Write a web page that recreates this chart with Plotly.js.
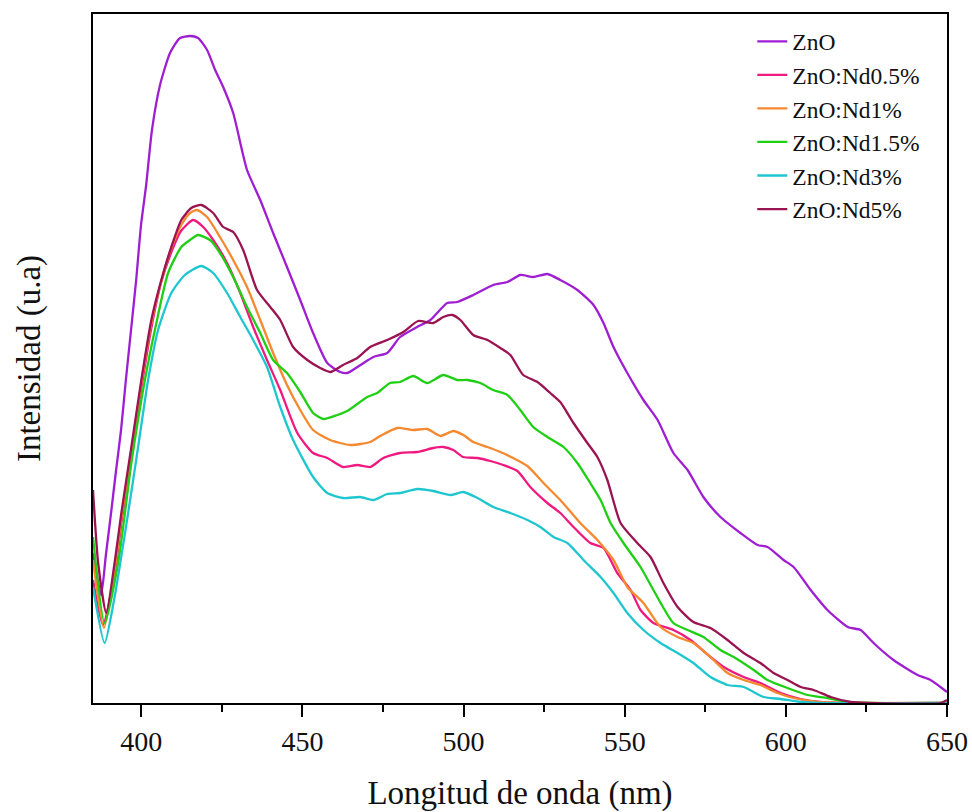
<!DOCTYPE html>
<html>
<head>
<meta charset="utf-8">
<script src="https://cdn.plot.ly/plotly-3.0.1.min.js"></script>
<style>html,body{margin:0;padding:0;background:#fff;}#chart{width:972px;height:812px;}</style>
</head>
<body>
<div id="chart"></div>
<script>
// Wavelength (nm) and intensity (arbitrary units)
const znoX = [385,387.5,389.0,390.6,392.1,393.7,395.2,396.8,398.4,399.9,401.5,403.3,405.8,408.9,412.0,415.1,417.6,420.4,422.9,425.4,428.5,432.8,436.9,440.9,445.2,449.3,453.3,457.7,461.7,463.9,468,472.0,476.3,480.3,485.6,489.7,494.9,498.0,503.0,509.2,513.6,517.6,521.6,526.0,530.0,535.3,540.3,543.4,546.5,550.8,555.8,560.2,565.1,569.5,574.4,579.7,585.9,591.2,594.3,599.3,602.4,607.7,612.9,619.2,623.2,627.2,633.4,640.9,644.9,650];
const znoY = [150,108,148,190,231,273,323,373,423,478,518,573,618,650,665,667,665,653,633,616,590,533,503,470,436,403,370,340,331,330,338,346,350,366,376,383,400,401,408,418,421,428,426,429,423,413,398,380,356,330,303,283,250,233,206,186,170,158,156,143,136,113,93,76,73,60,43,28,23,11];

const nd05X = [385,388.1,391.7,393.8,396.9,400.0,403.1,406.1,409.2,412.3,416.1,419.2,422.3,426.6,430.7,434.7,439.0,443.1,448.4,453.3,457.7,462.6,467.0,471.0,475.1,480.3,485.6,490.6,493.7,496.8,499.9,504.3,508.3,512.3,516.7,520.7,526.0,530.0,534.1,539.3,543.4,547.7,551.8,554.9,558.9,565.1,570.4,576.6,580.7,586.9,592.1,598.4,604.6,610.8,620,650];
const nd05Y = [123,78,128,180,248,315,375,420,450,472,483,476,463,440,410,376,343,313,270,250,245,236,238,236,245,250,251,255,256,253,246,245,242,238,232,216,200,190,176,160,155,130,113,93,80,73,63,46,36,26,20,10,4,1,0,0];

const nd1X = [385,388.4,391.7,393.8,396.9,400.0,403.1,406.2,409.3,412.4,415.1,417.3,420.4,424.4,428.5,432.8,436.9,440.9,445.2,449.3,453.3,458.6,464.8,471.0,474.1,479.4,484.4,488.7,492.8,496.8,499.9,503.0,507.4,511.4,515.4,519.8,524.8,530.0,536.2,541.5,546.5,550.8,555.8,561.1,566.4,571.3,576.6,581.9,586.9,592.1,597.4,602.4,609.8,620,650];
const nd1Y = [143,75,133,185,252,320,380,422,455,478,490,493,486,466,443,416,383,350,318,293,273,263,258,261,267,275,273,274,267,272,268,261,256,251,245,237,220,203,180,163,143,116,100,76,66,60,46,30,23,18,10,5,1,0,0];

const nd15X = [385,388.6,392.8,396.9,401.1,404.2,408.3,412.4,415.1,417.6,421.3,424.4,428.5,432.8,436.9,440.9,445.2,449.3,453.3,456.4,460.8,463.9,470.1,473.2,477.2,480.3,484.4,488.7,493.7,498.0,501.1,505.2,509.2,513.6,517.6,521.6,526.0,531.0,535.3,539.3,542.5,545.6,549.6,554.9,558.9,565.1,569.5,574.4,579.7,583.8,590.0,594.3,600.5,606.7,612.9,619.2,626,650];
const nd15Y = [166,80,140,240,323,373,430,456,463,468,463,450,426,396,370,343,330,311,290,284,288,292,306,310,320,321,327,320,328,323,323,320,313,308,293,276,266,256,240,220,203,180,160,136,113,80,73,66,53,46,33,23,15,8,5,1,0,0];

const nd3X = [385,388.6,391.7,395.9,399.0,402.1,405.2,409.3,413.5,418.6,422.3,426.6,430.7,434.7,439.0,443.1,447.1,453.3,457.7,462.6,467.9,472.0,476.3,480.3,485.6,490.6,495.9,499.9,504.3,509.2,514.5,519.8,523.8,527.9,532.2,537.2,542.5,546.5,550.8,555.8,561.1,566.4,571.3,576.6,581.9,586.9,593.1,598.4,604.6,609.8,650];
const nd3Y = [116,60,106,190,256,323,373,410,428,437,430,410,386,363,336,296,263,226,210,205,206,203,209,210,214,212,208,211,205,196,190,183,176,166,160,143,126,110,90,73,60,50,40,26,18,16,6,4,1,0,0];

const nd5X = [385,386.6,389.1,391.7,393.8,396.9,400.0,403.1,406.2,409.3,412.4,415.5,418.6,422.3,425.4,428.5,431.6,435.9,440.0,443.1,447.1,451.5,455.5,458.6,462.6,467.0,471.0,476.3,481.3,485.9,490.6,493.7,496.5,499.0,503.0,507.4,511.4,514.5,518.5,522.9,526.9,530.0,534.1,538.4,541.5,544.6,548.7,553.9,558.0,562.0,566.4,571.3,576.6,581.9,586.9,592.1,596.2,600.5,604.6,608.6,613.9,620.1,625.4,648,650];
const nd5Y = [213,140,90,140,190,256,323,383,423,456,483,495,498,490,476,471,453,413,396,383,356,343,335,331,338,345,356,363,371,382,380,386,388,383,368,363,355,348,328,321,310,301,280,260,246,223,180,160,146,120,96,81,75,63,50,40,30,23,16,13,6,1,0,0,3];

const names = ["ZnO","ZnO:Nd0.5%","ZnO:Nd1%","ZnO:Nd1.5%","ZnO:Nd3%","ZnO:Nd5%"];
const colors = ["#a01ed2","#f0197f","#f5892f","#1fcf14","#1ec6cf","#9a1452"];
const xs = [znoX, nd05X, nd1X, nd15X, nd3X, nd5X];
const ys = [znoY, nd05Y, nd1Y, nd15Y, nd3Y, nd5Y];

const traces = names.map((n, i) => ({
  x: xs[i], y: ys[i], name: n, type: "scatter", mode: "lines",
  line: {color: colors[i], width: 2.3, shape: "spline", smoothing: 0.6}
}));

const serif = "Liberation Serif, Times New Roman, serif";
const layout = {
  width: 972, height: 812,
  margin: {l: 93, r: 25, t: 14, b: 109},
  paper_bgcolor: "#fff", plot_bgcolor: "#fff",
  font: {family: serif, color: "#111"},
  showlegend: true,
  legend: {x: 0.772, xanchor: "left", y: 0.992, yanchor: "top",
           font: {family: serif, size: 23.5, color: "#111"},
           bgcolor: "rgba(0,0,0,0)", tracegroupgap: 0},
  xaxis: {
    range: [385, 650], dtick: 50, tick0: 400,
    showline: true, mirror: true, linecolor: "#000", linewidth: 2,
    ticks: "outside", ticklen: 12, tickwidth: 2, tickcolor: "#000",
    minor: {dtick: 25, tick0: 400, ticks: "outside", ticklen: 7, tickwidth: 2, tickcolor: "#000"},
    showgrid: false, zeroline: false,
    tickfont: {family: serif, size: 28, color: "#111"},
    title: {text: "Longitud de onda (nm)", font: {family: serif, size: 33, color: "#111"}, standoff: 28}
  },
  yaxis: {
    range: [0, 689],
    showline: true, mirror: true, linecolor: "#000", linewidth: 2,
    ticks: "", showticklabels: false, showgrid: false, zeroline: false,
    title: {text: "Intensidad (u.a)", font: {family: serif, size: 33, color: "#111"}, standoff: 40}
  }
};

Plotly.newPlot("chart", traces, layout, {displayModeBar: false, staticPlot: true});
</script>
</body>
</html>
